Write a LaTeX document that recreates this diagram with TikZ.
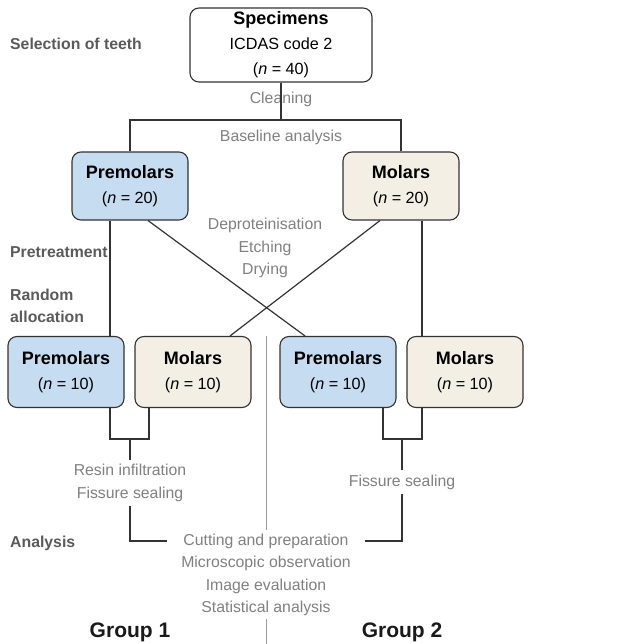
\documentclass[tikz,border=0pt]{standalone}
\usepackage{fontspec}
\setmainfont{Liberation Sans}
\definecolor{boxline}{HTML}{333333}
\definecolor{premfill}{HTML}{C6DCF1}
\definecolor{molfill}{HTML}{F3EFE5}
\definecolor{steptext}{HTML}{808080}
\definecolor{phasetext}{HTML}{5A5A5A}
\tikzset{
  toothbox/.style={draw=boxline, line width=1.1pt, rounded corners=9pt, align=center, inner sep=0pt,
    font=\fontsize{16.2}{25}\selectfont},
  topbox/.style={toothbox, minimum width=116pt, minimum height=68pt},
  subbox/.style={toothbox, minimum width=116pt, minimum height=71pt},
  steplabel/.style={text=steptext, align=center, font=\fontsize{15.8}{22.5}\selectfont, inner ysep=4pt},
  phaselabel/.style={text=phasetext, align=left, anchor=west, inner sep=0pt,
    font=\fontsize{15.8}{22}\selectfont\bfseries},
  grouplabel/.style={text=black!90, font=\fontsize{21}{24}\selectfont\bfseries},
  link/.style={draw=boxline, line width=1.2pt},
  divider/.style={draw=black!40, line width=0.9pt}
}
\newcommand{\boxtitle}[1]{{\fontsize{18}{25}\selectfont\bfseries #1}}
\begin{document}
\begin{tikzpicture}[x=1pt, y=-1pt]
  \useasboundingbox (0, 0) rectangle (621, 644);
  % boxes
  \node[toothbox, minimum width=182pt, minimum height=74pt] (spec) at (281, 45)
    {\boxtitle{Specimens}\\ICDAS code 2\\(\textit{n} = 40)};
  \node[topbox, fill=premfill] (pmA) at (130, 186) {\boxtitle{Premolars}\\(\textit{n} = 20)};
  \node[topbox, fill=molfill] (mlA) at (401, 186) {\boxtitle{Molars}\\(\textit{n} = 20)};
  \node[subbox, fill=premfill] (pmB) at (66, 372) {\boxtitle{Premolars}\\(\textit{n} = 10)};
  \node[subbox, fill=molfill] (mlB) at (193, 372) {\boxtitle{Molars}\\(\textit{n} = 10)};
  \node[subbox, fill=premfill] (pmD) at (338, 372) {\boxtitle{Premolars}\\(\textit{n} = 10)};
  \node[subbox, fill=molfill] (mlD) at (465, 372) {\boxtitle{Molars}\\(\textit{n} = 10)};
  % step texts
  \node[steplabel] (clean) at (281, 99) {Cleaning};
  \node[steplabel] (base) at (281, 137) {Baseline analysis};
  \node[steplabel] (pre) at (265, 248) {Deproteinisation\\Etching\\Drying};
  \node[steplabel] (resin) at (130, 483) {Resin infiltration\\Fissure sealing};
  \node[steplabel] (seal) at (402, 482) {Fissure sealing};
  \node[steplabel, inner xsep=16pt, inner ysep=3pt] (cut) at (266, 541) {Cutting and preparation};
  \node[steplabel, inner ysep=3pt] (eval) at (266, 586) {Microscopic observation\\Image evaluation\\Statistical analysis};
  % phases
  \node[phaselabel] (selPh) at (10, 44) {Selection of teeth};
  \node[phaselabel] (prePh) at (10, 252) {Pretreatment};
  \node[phaselabel] (randPh) at (10, 306) {Random\\allocation};
  \node[phaselabel] (anaPh) at (10, 543) {Analysis};
  \node[grouplabel] (grpA) at (130, 632) {Group 1};
  \node[grouplabel] (grpB) at (402, 632) {Group 2};
  % connectors
  \coordinate (split) at (281, 120);
  \coordinate (joinA) at (130, 439);
  \coordinate (joinB) at (402, 439);
  \draw[link] (spec.south) -- (split);
  \draw[link] (pmA.north) |- (split) -| (mlA.north);
  \draw[link] ([xshift=-20pt]pmA.south) -- ([xshift=-20pt]pmA.south |- pmB.north);
  \draw[link] ([xshift=21pt]mlA.south) -- ([xshift=21pt]mlA.south |- mlD.north);
  \draw[link] ([xshift=18pt]pmA.south) -- ([xshift=-33pt]pmD.north);
  \draw[link] ([xshift=-21pt]mlA.south) -- ([xshift=37pt]mlB.north);
  \draw[link] ([xshift=44pt]pmB.south) |- (joinA) -| ([xshift=-44pt]mlB.south);
  \draw[link] ([xshift=45pt]pmD.south) |- (joinB) -| ([xshift=-43pt]mlD.south);
  \draw[link] (joinA) -- (resin.north);
  \draw[link] (joinB) -- (seal.north);
  \draw[link] (resin.south) |- (cut.west);
  \draw[link] (seal.south) |- (cut.east);
  \draw[divider] (cut.north |- pmD.north) -- (cut.north);
  \draw[divider] (eval.south) -- (eval.south |- 0, 644);
\end{tikzpicture}
\end{document}
